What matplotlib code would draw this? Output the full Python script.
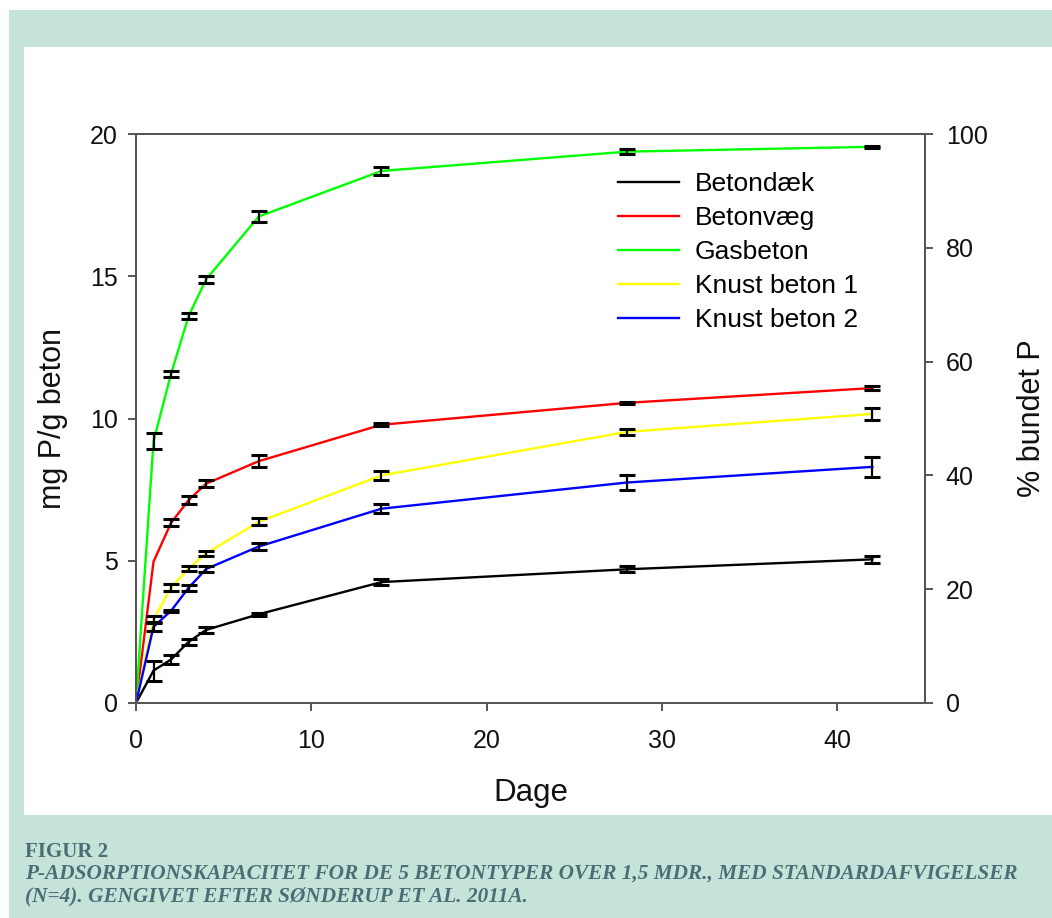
import matplotlib
matplotlib.use("Agg")
import matplotlib.pyplot as plt
from matplotlib.patches import Rectangle
import numpy as np

# ---- data ----
days = [0, 1, 2, 3, 4, 7, 14, 28, 42]
series_names = ["Betondæk", "Betonvæg", "Gasbeton", "Knust beton 1", "Knust beton 2"]
series_colors = ["#000000", "#ff0000", "#00ff00", "#ffff00", "#0000ff"]

betondaek = [0, 1.14, 1.53, 2.15, 2.57, 3.12, 4.25, 4.70, 5.05]
betondaek_sd = [0, 0.35, 0.16, 0.10, 0.10, 0.05, 0.10, 0.10, 0.12]
betonvaeg = [0, 4.97, 6.33, 7.13, 7.71, 8.50, 9.78, 10.55, 11.07]
betonvaeg_sd = [0, 0, 0.12, 0.15, 0.12, 0.22, 0.06, 0.03, 0.06]
gasbeton = [0, 9.20, 11.57, 13.60, 14.89, 17.10, 18.70, 19.38, 19.55]
gasbeton_sd = [0, 0.28, 0.10, 0.12, 0.12, 0.20, 0.15, 0.08, 0.03]
knust1 = [0, 2.94, 4.06, 4.73, 5.26, 6.37, 8.00, 9.53, 10.16]
knust1_sd = [0, 0.13, 0.11, 0.08, 0.08, 0.12, 0.15, 0.10, 0.20]
knust2 = [0, 2.68, 3.24, 4.05, 4.71, 5.50, 6.83, 7.75, 8.30]
knust2_sd = [0, 0.15, 0.04, 0.10, 0.09, 0.12, 0.15, 0.28, 0.35]

values = [betondaek, betonvaeg, gasbeton, knust1, knust2]
sds = [betondaek_sd, betonvaeg_sd, gasbeton_sd, knust1_sd, knust2_sd]

left_ticks = [0, 5, 10, 15, 20]
right_ticks = [0, 20, 40, 60, 80, 100]
x_ticks = [0, 10, 20, 30, 40]

caption_title = "FIGUR 2"
caption_text = ("P-ADSORPTIONSKAPACITET FOR DE 5 BETONTYPER OVER 1,5 MDR., MED STANDARDAFVIGELSER\n"
                "(N=4). GENGIVET EFTER SØNDERUP ET AL. 2011A.")

# ---- figure ----
W, H = 1052, 918
fig = plt.figure(figsize=(W / 100, H / 100), dpi=100, facecolor="white")
plt.rcParams["font.family"] = ["Liberation Sans", "DejaVu Sans"]

teal = "#c6e3da"
fig.patches.append(Rectangle((9 / W, 0), 1 - 9 / W, (H - 10) / H,
                             transform=fig.transFigure, facecolor=teal, edgecolor="none", zorder=-10))
fig.patches.append(Rectangle((24 / W, (H - 815) / H), 1 - 24 / W, (815 - 47) / H,
                             transform=fig.transFigure, facecolor="white", edgecolor="none", zorder=-9))

ax_l, ax_r, ax_t, ax_b = 136, 925, 134, 703
ax = fig.add_axes([ax_l / W, 1 - ax_b / H, (ax_r - ax_l) / W, (ax_b - ax_t) / H])
ax.set_facecolor("none")

for name, col, v, sd in zip(series_names, series_colors, values, sds):
    ax.plot(days, v, color=col, lw=1.7, label=name, zorder=2, solid_joinstyle="round")
    d = np.array(days); vv = np.array(v); ss = np.array(sd)
    m = ss > 0
    ax.errorbar(d[m], vv[m], yerr=ss[m], fmt="none", ecolor="black",
                elinewidth=1.6, capsize=5.8, capthick=2.2, zorder=3)

ax.set_xlim(0, 45)
ax.set_ylim(0, 20)
ax.set_xticks(x_ticks)
ax.set_yticks(left_ticks)
spine_col = "#555555"
for s in ax.spines.values():
    s.set_color(spine_col)
    s.set_linewidth(1.4)
ax.tick_params(axis="both", direction="out", length=6, width=1.4, color=spine_col,
               labelsize=18, pad=7, labelcolor="#111111")
ax.tick_params(axis="x", pad=13)

ax.set_xlabel("Dage", fontsize=22.5, labelpad=18, color="#111111")
ax.set_ylabel("mg P/g beton", fontsize=22, labelpad=16, color="#111111")

ax2 = ax.twinx()
ax2.set_ylim(0, 100)
ax2.set_yticks(right_ticks)
for s in ax2.spines.values():
    s.set_color(spine_col)
    s.set_linewidth(1.4)
ax2.tick_params(axis="y", direction="out", length=6, width=1.4, color=spine_col,
                labelsize=18, pad=9, labelcolor="#111111")
ax2.set_ylabel("% bundet P", fontsize=22, labelpad=21, color="#111111")

leg = ax.legend(loc="upper left", bbox_to_anchor=(618 / W, 1 - 172 / H),
                bbox_transform=fig.transFigure, frameon=False, fontsize=19,
                handlelength=2.3, handletextpad=0.6, labelspacing=0.38,
                borderpad=0, borderaxespad=0)
for line in leg.get_lines():
    line.set_linewidth(1.7)

cap_col = "#4b6d75"
fig.text(25 / W, 1 - 852 / H, caption_title, fontsize=15, fontweight="bold",
         family="Liberation Serif", color=cap_col, va="center", ha="left")
fig.text(25 / W, 1 - 885 / H, caption_text, fontsize=15.3, fontweight="bold", style="italic",
         family="Liberation Serif", color=cap_col, va="center", ha="left", linespacing=1.2)

fig.savefig("out.png", dpi=100, facecolor="white")
